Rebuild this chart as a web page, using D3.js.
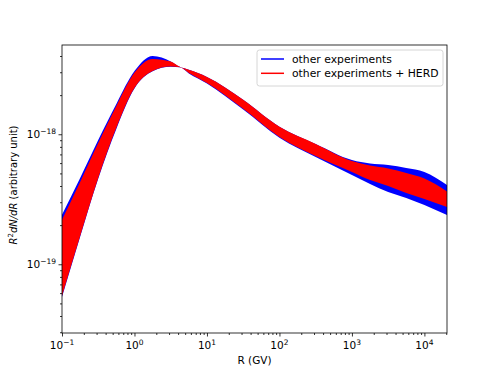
<!DOCTYPE html>
<html>
<head>
<meta charset="utf-8">
<script src="https://cdn.jsdelivr.net/npm/d3@7"></script>
<style>
  body { margin: 0; background: #fff; }
  text { font-family: "DejaVu Sans", sans-serif; fill: #000; }
</style>
</head>
<body>
<svg id="chart" width="498" height="374"></svg>
<script>
// rigidity (GV) sample points
const rigidity = [0.1, 0.178, 0.316, 0.562, 1, 1.78, 3.16, 4.22, 5.62, 10, 31.6, 100, 316, 1000, 1780, 3160, 5620, 10000, 20500];

// band of the fit with other experiments only
const blueUpper = [2.40e-19, 4.61e-19, 9.04e-19, 1.71e-18, 3.06e-18, 4.00e-18, 3.63e-18, 3.30e-18, 3.13e-18, 2.76e-18, 1.84e-18, 1.14e-18, 8.42e-19, 6.34e-19, 5.96e-19, 5.81e-19, 5.51e-19, 5.13e-19, 4.07e-19];
const blueLower = [5.60e-20, 1.63e-19, 4.55e-19, 1.10e-18, 2.25e-18, 3.05e-18, 3.30e-18, 3.27e-18, 2.94e-18, 2.46e-18, 1.55e-18, 9.40e-19, 6.69e-19, 4.86e-19, 4.15e-19, 3.60e-19, 3.24e-19, 2.86e-19, 2.39e-19];

// band of the fit with other experiments + HERD
const redUpper = [2.20e-19, 4.30e-19, 8.57e-19, 1.65e-18, 2.98e-18, 3.80e-18, 3.63e-18, 3.30e-18, 3.13e-18, 2.76e-18, 1.84e-18, 1.14e-18, 8.42e-19, 6.23e-19, 5.75e-19, 5.46e-19, 5.04e-19, 4.57e-19, 3.63e-19];
const redLower = [5.70e-20, 1.65e-19, 4.61e-19, 1.12e-18, 2.27e-18, 3.07e-18, 3.32e-18, 3.27e-18, 2.96e-18, 2.48e-18, 1.57e-18, 9.53e-19, 6.81e-19, 5.13e-19, 4.45e-19, 4.00e-19, 3.54e-19, 3.18e-19, 2.76e-19];

const xMajorTicks = [0.1, 1, 10, 100, 1000, 10000];
const xTickExponents = ["\u22121", "0", "1", "2", "3", "4"];
const yMajorTicks = [1e-19, 1e-18];
const yTickExponents = ["\u221219", "\u221218"];

const legendLabels = ["other experiments", "other experiments + HERD"];
const legendColors = ["#0000ff", "#ff0000"];

const margin = {left: 62, top: 45, right: 447, bottom: 333};

const svg = d3.select("#chart");

const x = d3.scaleLog().domain([0.1, 2.05e4]).range([margin.left, margin.right]);
const y = d3.scaleLog().domain([2.96e-20, 4.86e-18]).range([margin.bottom, margin.top]);

svg.append("defs").append("clipPath").attr("id", "plotClip").append("rect")
    .attr("x", margin.left).attr("y", margin.top)
    .attr("width", margin.right - margin.left).attr("height", margin.bottom - margin.top);

let bands = svg.append("g").attr("clip-path", "url(#plotClip)");

function drawBand(upper, lower, color) {
    let rows = rigidity.map((r, i) => ({r: r, hi: upper[i], lo: lower[i]}));
    let area = d3.area()
        .x(d => x(d.r))
        .y0(d => y(d.lo))
        .y1(d => y(d.hi))
        .curve(d3.curveMonotoneX);
    return bands.append("path").datum(rows).attr("d", area).attr("fill", color).attr("stroke", "none");
}

drawBand(blueUpper, blueLower, "#0000ff");
drawBand(redUpper, redLower, "#ff0000");

// axes: major and minor ticks, outward
let xMinor = x.ticks().filter(t => !xMajorTicks.some(m => Math.abs(Math.log10(m) - Math.log10(t)) < 1e-6));
let yMinor = y.ticks().filter(t => !yMajorTicks.some(m => Math.abs(Math.log10(m) - Math.log10(t)) < 1e-6));

function styleAxis(g) {
    g.select(".domain").remove();
    g.selectAll("line").attr("stroke", "#000").attr("stroke-width", 0.8);
}

svg.append("g").attr("transform", `translate(0,${margin.bottom})`)
    .call(d3.axisBottom(x).tickValues(xMajorTicks).tickSize(3.5).tickFormat("")).call(styleAxis);
svg.append("g").attr("transform", `translate(0,${margin.bottom})`)
    .call(d3.axisBottom(x).tickValues(xMinor).tickSize(2).tickFormat("")).call(styleAxis);
svg.append("g").attr("transform", `translate(${margin.left},0)`)
    .call(d3.axisLeft(y).tickValues(yMajorTicks).tickSize(3.5).tickFormat("")).call(styleAxis);
svg.append("g").attr("transform", `translate(${margin.left},0)`)
    .call(d3.axisLeft(y).tickValues(yMinor).tickSize(2).tickFormat("")).call(styleAxis);

// frame
svg.append("rect").attr("x", margin.left).attr("y", margin.top)
    .attr("width", margin.right - margin.left).attr("height", margin.bottom - margin.top)
    .attr("fill", "none").attr("stroke", "#000").attr("stroke-width", 0.8);

// tick labels as 10^n
function powerLabel(sel, exp) {
    sel.append("tspan").text("10").attr("font-size", 10.5);
    sel.append("tspan").text(exp).attr("font-size", 7.5).attr("dy", -4.5);
}

xMajorTicks.forEach((t, i) => {
    let label = svg.append("text").attr("x", x(t)).attr("y", margin.bottom + 16).attr("text-anchor", "middle");
    powerLabel(label, xTickExponents[i]);
});

yMajorTicks.forEach((t, i) => {
    let label = svg.append("text").attr("x", margin.left - 6).attr("y", y(t) + 4).attr("text-anchor", "end");
    powerLabel(label, yTickExponents[i]);
});

// axis titles
svg.append("text").attr("x", (margin.left + margin.right) / 2).attr("y", 364)
    .attr("text-anchor", "middle").attr("font-size", 10.5).text("R (GV)");

let yTitle = svg.append("text").attr("text-anchor", "middle").attr("font-size", 10)
    .attr("transform", "translate(17,185) rotate(-90)");
yTitle.append("tspan").attr("font-style", "italic").text("R");
yTitle.append("tspan").attr("font-size", 7).attr("dy", -4.5).text("2");
yTitle.append("tspan").attr("font-style", "italic").attr("dy", 4.5).text("dN/dR");
yTitle.append("tspan").text(" (arbitrary unit)");

// legend
let legend = svg.append("g").attr("transform", "translate(257,50)");
legend.append("rect").attr("width", 186).attr("height", 36).attr("rx", 2.5)
    .attr("fill", "#fff").attr("fill-opacity", 0.8).attr("stroke", "#cccccc").attr("stroke-width", 0.8);
legendLabels.forEach((name, i) => {
    let rowY = 9 + i * 14.3;
    legend.append("line").attr("x1", 4).attr("x2", 27).attr("y1", rowY).attr("y2", rowY)
        .attr("stroke", legendColors[i]).attr("stroke-width", 1.5);
    legend.append("text").attr("x", 35).attr("y", rowY + 3.8).attr("font-size", 10.8).text(name);
});
</script>
</body>
</html>
